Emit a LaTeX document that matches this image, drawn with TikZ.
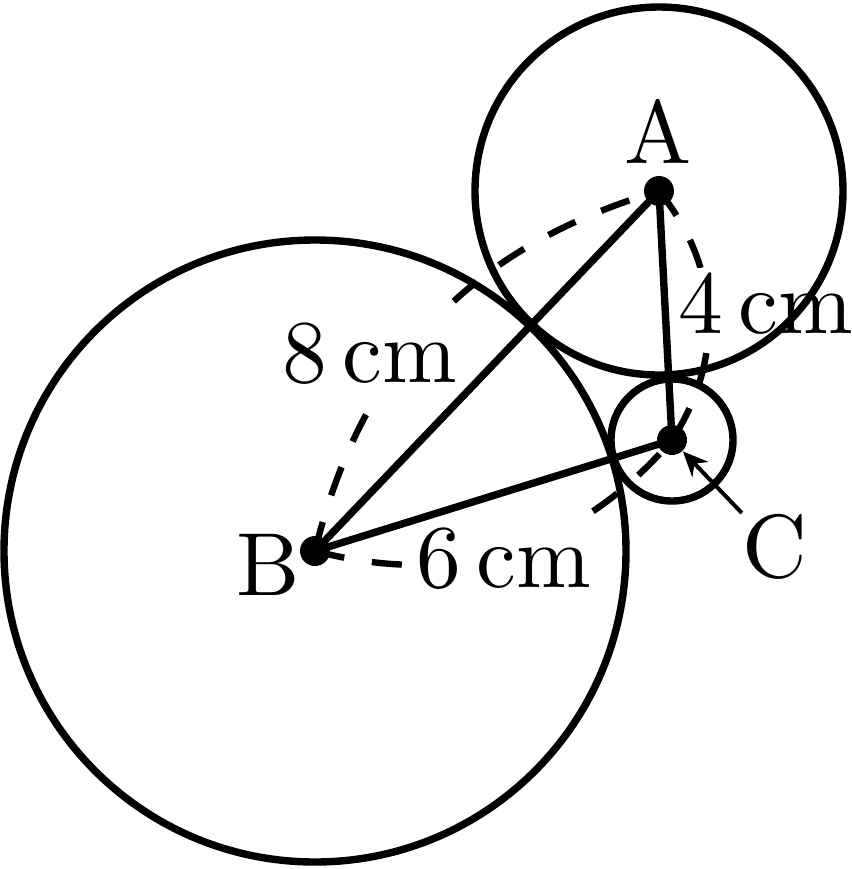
\documentclass[tikz,border=0pt]{standalone}
\usepackage{fontspec}
\setmainfont{lmroman10-regular.otf}
\usetikzlibrary{arrows.meta}
\begin{document}
\begin{tikzpicture}[x=0.25pt,y=-0.25pt,
  font=\fontsize{22.4pt}{27pt}\selectfont,
  dasharc/.style={line width=1.6pt, dash pattern=on 7.5pt off 7pt},
  circ/.style={line width=1.85pt},
  seg/.style={line width=1.85pt},
  dot/.style={circle, fill=black, inner sep=0pt, minimum size=7.5pt},
  lab/.style={fill=white, inner sep=1pt},
  letter/.style={inner sep=0pt}]
\useasboundingbox (0,0) rectangle (851,869);
\coordinate (A) at (659,191);
\coordinate (B) at (315,551);
\coordinate (C) at (672,440);
% dashed measuring arcs
\draw[dasharc] (B) to[bend left=30] (A);
\draw[dasharc] (A) to[bend left=36] (C);
\draw[dasharc] (B) to[bend right=32] (C);
% distance labels
\node[lab, inner sep=3pt, anchor=base] (l8) at (370,382) {8\,cm};
\node[lab, anchor=base] (l4) at (766,333) {4\,cm};
\node[lab, anchor=base] (l6) at (504,587) {6\,cm};
% circles
\draw[circ] (B) circle[radius=77.75pt];
\draw[circ] (A) circle[radius=46pt];
\draw[circ] (C) circle[radius=15.25pt];
% solid segments
\draw[seg] (B) -- (A);
\draw[seg] (B) -- (C);
\draw[seg] (C) -- (A);
% centre dots
\node[dot] (Ad) at (A) {};
\node[dot] (Bd) at (B) {};
\node[dot] (Cd) at (C) {};
% point names
\node[letter, anchor=base] (lA) at (658,163) {A};
\node[letter, anchor=base] (lB) at (268,595) {B};
\node[letter, anchor=base] (lC) at (775,577) {C};
\draw[line width=1pt, -{Stealth[length=6.25pt,width=5.5pt]}] (lC.north west) -- (Cd);
\end{tikzpicture}
\end{document}
